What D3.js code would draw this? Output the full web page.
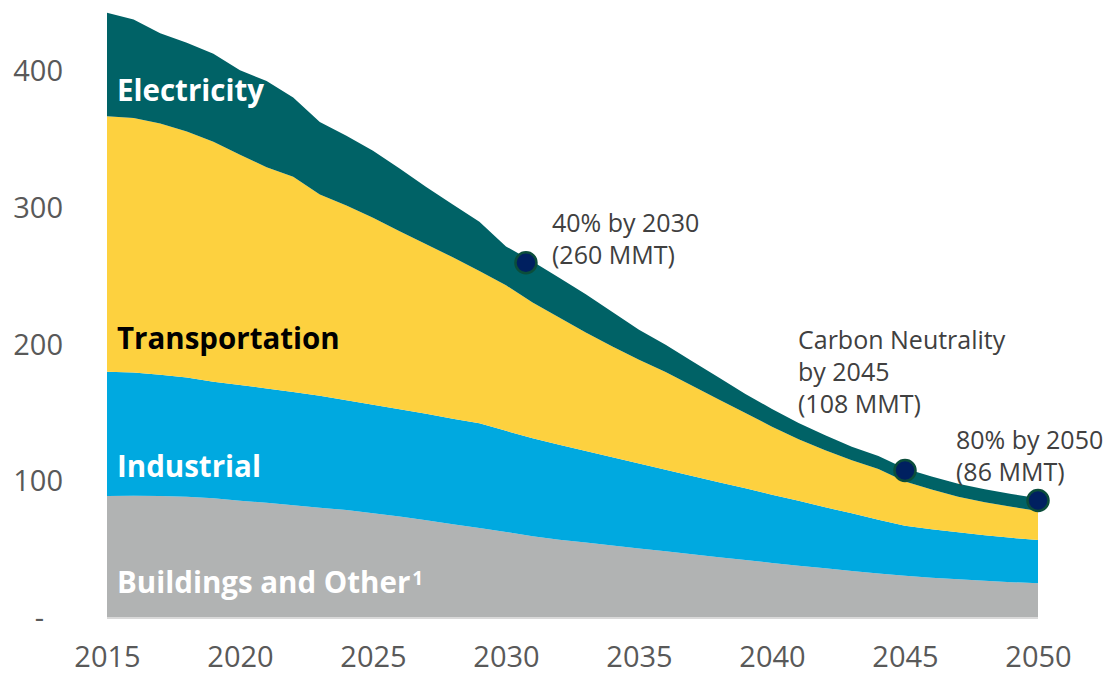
<!DOCTYPE html>
<html>
<head>
<meta charset="utf-8">
<script src="https://cdn.jsdelivr.net/npm/d3@7"></script>
<style>
  html, body { margin: 0; padding: 0; background: #fff; }
  svg { display: block; font-family: "Open Sans", "Noto Sans", sans-serif; }
</style>
</head>
<body>
<svg id="chart" width="1107" height="677"></svg>
<script>
// Emissions by sector, MMT CO2e, 2015–2050
const years = d3.range(2015, 2051);

const buildings = [89.3, 89.5, 89.3, 88.7, 87.6, 85.8, 84.3, 82.5, 80.7, 79.0,
  76.7, 74.2, 71.6, 68.7, 65.8, 63.0, 59.8, 57.3, 55.2, 53.0,
  50.9, 48.9, 46.7, 44.5, 42.4, 40.3, 38.3, 36.4, 34.4, 32.6,
  31.0, 29.5, 28.4, 27.2, 26.2, 25.5];

const industrial = [91.0, 90.1, 88.7, 87.3, 85.4, 84.7, 83.7, 83.0, 81.9, 80.3,
  79.3, 78.5, 77.9, 77.1, 76.7, 74.0, 71.8, 69.5, 67.0, 64.6,
  62.1, 59.6, 57.3, 54.8, 52.6, 50.0, 47.5, 44.6, 42.3, 39.4,
  36.5, 35.5, 34.4, 33.4, 32.5, 31.5];

const transportation = [187.0, 186.4, 184.0, 180.0, 175.5, 168.5, 162.0, 157.5, 147.4, 142.7,
  137.0, 130.3, 124.1, 118.2, 111.5, 106.5, 99.4, 93.2, 86.8, 81.2,
  76.0, 71.5, 66.0, 60.7, 55.0, 49.7, 45.0, 41.8, 38.7, 37.0,
  32.5, 29.0, 25.9, 24.1, 22.7, 21.3];

const electricity = [75.7, 72.0, 66.0, 65.0, 64.5, 62.0, 63.0, 58.0, 53.0, 51.0,
  49.0, 46.0, 41.9, 38.7, 36.0, 28.5, 30.0, 29.0, 28.0, 25.2,
  22.0, 20.0, 18.0, 16.0, 14.0, 13.0, 12.0, 11.0, 10.0, 9.6,
  9.5, 9.5, 9.5, 9.5, 9.4, 9.3];

const sectorKeys = ["Buildings and Other", "Industrial", "Transportation", "Electricity"];
const sectorColors = ["#b1b3b3", "#00a9e0", "#fdd13f", "#006266"];

const yTicks = [0, 100, 200, 300, 400];
const xTicks = [2015, 2020, 2025, 2030, 2035, 2040, 2045, 2050];

// Milestone targets
const milestoneYears = [2030.75, 2045, 2050];
const milestoneValues = [260, 108, 86];
const milestoneLabels = [
  ["40% by 2030", "(260 MMT)"],
  ["Carbon Neutrality", "by 2045", "(108 MMT)"],
  ["80% by 2050", "(86 MMT)"]
];

// ---- build table ----
const rows = years.map((yr, i) => ({
  year: yr,
  "Buildings and Other": buildings[i],
  "Industrial": industrial[i],
  "Transportation": transportation[i],
  "Electricity": electricity[i]
}));

const svg = d3.select("#chart");

const x = d3.scaleLinear().domain([2015, 2050]).range([107, 1038]);
const y = d3.scaleLinear().domain([0, 400]).range([618, 71.5]);

const stack = d3.stack().keys(sectorKeys);
const series = stack(rows);

const area = d3.area()
  .x(d => x(d.data.year))
  .y0(d => y(d[0]))
  .y1(d => y(d[1]))
  .curve(d3.curveLinear);

svg.append("g")
  .selectAll("path")
  .data(series)
  .join("path")
  .attr("fill", (d, i) => sectorColors[i])
  .attr("d", area);

// baseline
svg.append("line")
  .attr("x1", x(2015)).attr("x2", x(2050))
  .attr("y1", y(0)).attr("y2", y(0))
  .attr("stroke", "#d9d9d9").attr("stroke-width", 2);

// y axis labels
const yAxis = d3.axisLeft(y)
  .tickValues(yTicks)
  .tickSize(0)
  .tickPadding(0)
  .tickFormat(d => d === 0 ? "-" : d);

const gy = svg.append("g").attr("transform", "translate(63,0)").call(yAxis);
gy.select(".domain").remove();
gy.selectAll("text")
  .attr("fill", "#595959")
  .style("font-size", "29px")
  .style("font-family", "'Open Sans', sans-serif");
gy.selectAll(".tick").filter(d => d === 0).select("text").attr("x", -19);

// x axis labels
const xAxis = d3.axisBottom(x)
  .tickValues(xTicks)
  .tickSize(0)
  .tickPadding(0)
  .tickFormat(d3.format("d"));

const gx = svg.append("g").attr("transform", "translate(0,646)").call(xAxis);
gx.select(".domain").remove();
gx.selectAll("text")
  .attr("fill", "#595959")
  .attr("dy", "0.71em")
  .style("font-size", "29px")
  .style("font-family", "'Open Sans', sans-serif");

// sector labels
const sectorLabels = [
  { text: "Electricity", y: 101, color: "#ffffff" },
  { text: "Transportation", y: 349, color: "#000000" },
  { text: "Industrial", y: 477, color: "#ffffff" },
  { text: "Buildings and Other", sup: "1", y: 593, color: "#ffffff" }
];

const sl = svg.append("g")
  .style("font-weight", "bold")
  .style("font-size", "29.5px");
sectorLabels.forEach(s => {
  const t = sl.append("text")
    .attr("x", 117)
    .attr("y", s.y)
    .attr("fill", s.color)
    .text(s.text);
  if (s.sup) {
    t.append("tspan")
      .attr("dy", -8)
      .attr("dx", 2)
      .style("font-size", "19px")
      .text(s.sup);
  }
});

// milestone markers
svg.append("g")
  .selectAll("circle")
  .data(milestoneYears)
  .join("circle")
  .attr("cx", d => x(d))
  .attr("cy", (d, i) => y(milestoneValues[i]))
  .attr("r", 10.5)
  .attr("fill", "#002060")
  .attr("stroke", "#0b4d3b")
  .attr("stroke-width", 2.5);

// milestone annotations
const annoPos = [
  { x: 552, y: 232 },
  { x: 798, y: 349 },
  { x: 956, y: 449 }
];
const ag = svg.append("g")
  .style("font-size", "25px")
  .attr("fill", "#404040");
milestoneLabels.forEach((lines, i) => {
  const t = ag.append("text")
    .attr("x", annoPos[i].x)
    .attr("y", annoPos[i].y);
  lines.forEach((ln, j) => {
    t.append("tspan")
      .attr("x", annoPos[i].x)
      .attr("dy", j === 0 ? 0 : 32)
      .text(ln);
  });
});
</script>
</body>
</html>
